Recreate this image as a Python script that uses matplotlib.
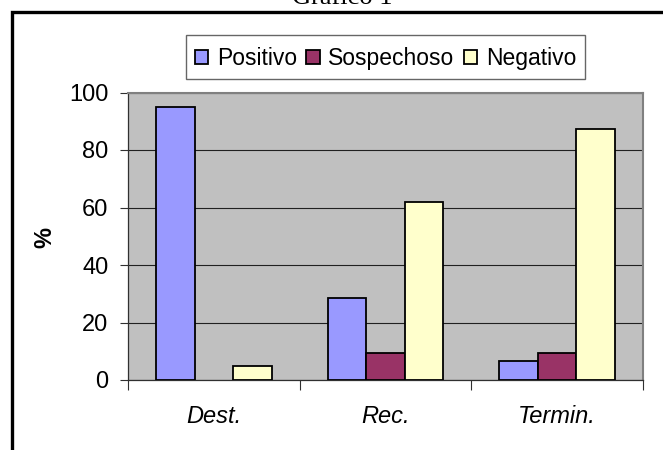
import matplotlib
matplotlib.use("Agg")
import matplotlib.pyplot as plt
from matplotlib.patches import Patch, Rectangle
from matplotlib.legend_handler import HandlerPatch
import numpy as np

categories = ["Dest.", "Rec.", "Termin."]
series_names = ["Positivo", "Sospechoso", "Negativo"]
positivo = [95, 28.6, 6.7]
sospechoso = [0, 9.3, 9.3]
negativo = [5, 61.9, 87.3]
colors = ["#9999FF", "#993366", "#FFFFCC"]
yticks = [0, 20, 40, 60, 80, 100]
title = "Gráfico 1"
ylabel = "%"

W, H = 663, 450
fig = plt.figure(figsize=(W / 100, H / 100), dpi=100)
fig.patch.set_facecolor("white")

# outer frame (extends beyond right/bottom edges)
fig.patches.append(Rectangle((11.7 / W, -0.2), 1.2, 1 - 11.7 / H + 0.2,
                             transform=fig.transFigure, fill=False,
                             edgecolor="black", linewidth=2.4, zorder=0))

ax = fig.add_axes([128 / W, (H - 380) / H, (643 - 128) / W, (380 - 92.5) / H])
ax.set_facecolor("#C0C0C0")

x = np.arange(len(categories))
bw = 0.225
for i, (vals, c) in enumerate(zip([positivo, sospechoso, negativo], colors)):
    v = np.array(vals, dtype=float)
    mask = v > 0
    ax.bar(x[mask] + (i - 1) * bw, v[mask], width=bw, color=c,
           edgecolor="black", linewidth=1.3, zorder=3)

ax.set_xlim(-0.5, 2.5)
ax.set_ylim(0, 100)
ax.set_yticks(yticks)
ax.set_yticklabels([str(t) for t in yticks], fontsize=17, family="Liberation Sans")
ax.yaxis.grid(True, color="#202020", linewidth=0.8, zorder=1)
ax.set_axisbelow(True)
ax.tick_params(axis="y", direction="out", length=6, width=0.8, color="#303030", pad=8)

ax.set_xticks(x)
ax.set_xticklabels(categories, fontsize=17, family="Liberation Sans", style="italic")
ax.tick_params(axis="x", which="major", length=0, pad=18)
ax.set_xticks([-0.5, 0.5, 1.5, 2.5], minor=True)
ax.tick_params(axis="x", which="minor", direction="out", length=7, width=0.8, color="#303030")

for s in ["left", "bottom"]:
    ax.spines[s].set_color("#303030")
    ax.spines[s].set_linewidth(0.9)
for s in ["top", "right"]:
    ax.spines[s].set_color("#808080")
    ax.spines[s].set_linewidth(1.5)

fig.text(45 / W, 1 - 238 / H, ylabel, rotation=90, ha="center", va="center",
         fontsize=17, fontweight="bold", family="Liberation Sans")

fig.text(342 / W, 1 - 4 / H, title, ha="center", va="baseline",
         fontsize=19, family="Liberation Serif")


def square_patch(legend, orig_handle, xdescent, ydescent, width, height, fontsize):
    s = 0.58 * fontsize
    return Rectangle((-xdescent + (width - s) / 2, -ydescent + (height - s) / 2), s, s)


handles = [Patch(facecolor=c, edgecolor="black", linewidth=1.3) for c in colors]
leg = fig.legend(handles, series_names, loc="center",
                 bbox_to_anchor=(385.5 / W, 1 - 57 / H), ncol=3,
                 prop={"family": "Liberation Sans", "size": 16.5},
                 frameon=True, fancybox=False, shadow=False,
                 handler_map={Patch: HandlerPatch(patch_func=square_patch)},
                 handlelength=0.6, handleheight=1.35, handletextpad=0.38,
                 columnspacing=0.4, borderpad=0.38, borderaxespad=0)
leg.get_frame().set_edgecolor("#404040")
leg.get_frame().set_linewidth(1.0)

fig.savefig("out.png", dpi=100)
